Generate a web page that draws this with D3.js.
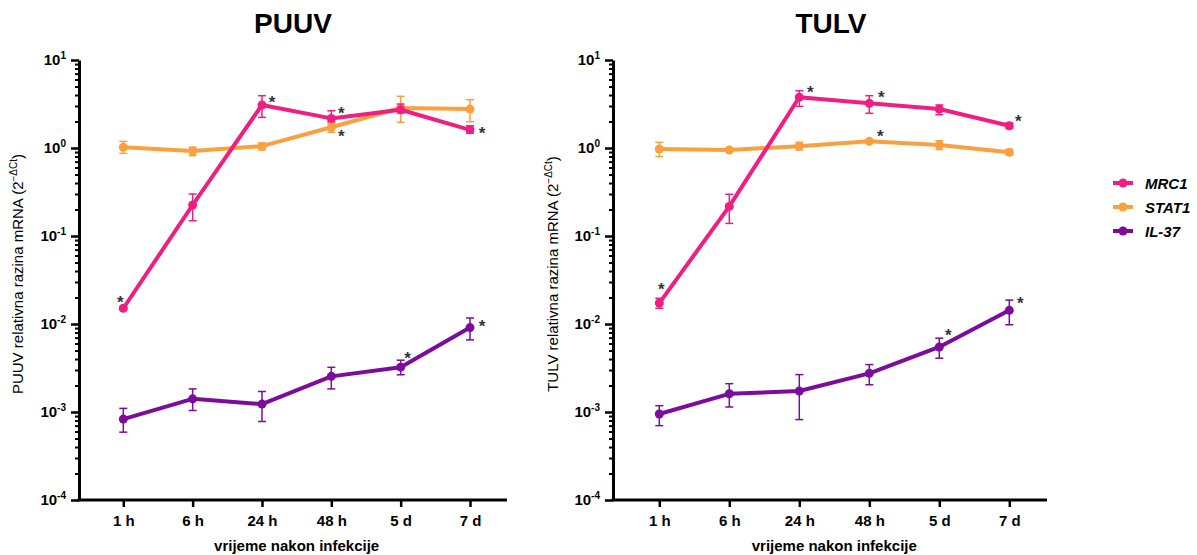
<!DOCTYPE html>
<html><head><meta charset="utf-8">
<script src="https://cdn.jsdelivr.net/npm/d3@7"></script>
<style>
body{margin:0;background:#fff;}
svg{display:block;font-family:"Liberation Sans",Arial,sans-serif;}
</style></head>
<body><svg id="c" width="1197" height="555"></svg>
<script>
// ---------- data ----------
const categories = ["1 h","6 h","24 h","48 h","5 d","7 d"];
const seriesNames = ["MRC1","STAT1","IL-37"];
const yTickExponents = [1,0,-1,-2,-3,-4];

// PUUV
const puuvMRC1 = [0.0151,0.225,3.08,2.17,2.72,1.61];
const puuvMRC1Lo = [0.0145,0.149,2.23,1.99,2.50,1.47];
const puuvMRC1Hi = [0.0157,0.300,3.93,2.65,3.16,1.79];
const puuvSTAT1 = [1.02,0.924,1.05,1.72,2.85,2.77];
const puuvSTAT1Lo = [0.87,0.82,0.95,1.51,1.96,1.99];
const puuvSTAT1Hi = [1.19,1.02,1.14,1.92,3.87,3.54];
const puuvIL37 = [0.00083,0.00141,0.00123,0.00254,0.00323,0.0091];
const puuvIL37Lo = [0.00059,0.00104,0.00078,0.00183,0.00265,0.0066];
const puuvIL37Hi = [0.00110,0.00183,0.00171,0.00322,0.00388,0.0117];

// TULV
const tulvMRC1 = [0.0173,0.217,3.77,3.22,2.77,1.79];
const tulvMRC1Lo = [0.0151,0.139,2.97,2.48,2.39,1.67];
const tulvMRC1Hi = [0.0196,0.298,4.48,3.93,3.08,1.92];
const tulvSTAT1 = [0.974,0.949,1.05,1.19,1.08,0.894];
const tulvSTAT1Lo = [0.80,0.91,0.95,1.14,0.96,0.83];
const tulvSTAT1Hi = [1.16,0.99,1.16,1.24,1.21,0.96];
const tulvIL37 = [0.00095,0.00161,0.00173,0.00275,0.00548,0.0143];
const tulvIL37Lo = [0.00070,0.00114,0.00082,0.00204,0.00409,0.0098];
const tulvIL37Hi = [0.00118,0.00210,0.00266,0.00346,0.00690,0.0187];

// significance markers: [seriesIndex, categoryIndex]
const puuvSig = [[0,0],[0,2],[0,3],[0,5],[1,3],[2,4],[2,5]];
const tulvSig = [[0,0],[0,2],[0,3],[0,5],[1,3],[2,4],[2,5]];

// ---------- styles / layout ----------
const colors = ["#ef1f82","#f9a03f","#7b0c9c"];
const font = '"Liberation Sans",Arial,sans-serif';
// star offsets (px) per panel, same order as sig arrays
const puuvStarOff = [[-3,-9],[10,-6],[10,-8],[12,0],[10,6],[7,-12],[12,-5]];
const tulvStarOff = [[2,-17],[11,-8],[12,-9],[9,-8],[11,-8],[9,-15],[11,-10]];

const panels = [
  {title:"PUUV", yTitle:"PUUV", axisX:79, x0:123.3, x1:470, xEnd:507, titleX:293, yTitleX:23,
   vals:[puuvMRC1,puuvSTAT1,puuvIL37], lo:[puuvMRC1Lo,puuvSTAT1Lo,puuvIL37Lo], hi:[puuvMRC1Hi,puuvSTAT1Hi,puuvIL37Hi],
   sig:puuvSig, off:puuvStarOff},
  {title:"TULV", yTitle:"TULV", axisX:613, x0:659.3, x1:1009.3, xEnd:1047, titleX:831, yTitleX:558,
   vals:[tulvMRC1,tulvSTAT1,tulvIL37], lo:[tulvMRC1Lo,tulvSTAT1Lo,tulvIL37Lo], hi:[tulvMRC1Hi,tulvSTAT1Hi,tulvIL37Hi],
   sig:tulvSig, off:tulvStarOff}
];

const svg = d3.select("#c");
const yTop = 60, yBot = 500;
const y = d3.scaleLog().domain([1e-4,10]).range([yBot,yTop]);

const minor = [];
for (let e=-4;e<1;e++) for (let m=2;m<=9;m++) minor.push(m*Math.pow(10,e));
const major = yTickExponents.map(e=>Math.pow(10,e));

panels.forEach(p=>{
  const g = svg.append("g");
  const x = d3.scalePoint().domain(categories).range([p.x0,p.x1]);

  // title
  g.append("text").attr("x",p.titleX).attr("y",33).attr("text-anchor","middle")
    .attr("font-size",28).attr("font-weight","bold").attr("fill","#000").text(p.title);

  // y axis minor ticks
  const ga1 = g.append("g").attr("transform",`translate(${p.axisX},0)`)
    .call(d3.axisLeft(y).tickValues(minor).tickSize(4).tickFormat(""));
  ga1.select(".domain").remove();
  ga1.selectAll("line").attr("stroke","#000").attr("stroke-width",2);
  // y axis major ticks
  const ga2 = g.append("g").attr("transform",`translate(${p.axisX},0)`)
    .call(d3.axisLeft(y).tickValues(major).tickSize(8).tickSizeOuter(0).tickPadding(5));
  ga2.select(".domain").attr("stroke","#000").attr("stroke-width",3);
  ga2.selectAll(".tick line").attr("stroke","#000").attr("stroke-width",2.5);
  ga2.selectAll(".tick text").each(function(d){
    const t = d3.select(this);
    const e = Math.round(Math.log10(d));
    t.text(null).attr("font-family",font).attr("font-size",15).attr("font-weight","bold").attr("fill","#000");
    t.append("tspan").text("10");
    t.append("tspan").attr("font-size",10).attr("dy",-6).text(e<0 ? "-"+Math.abs(e) : String(e));
  });

  // x axis
  const gx = g.append("g").attr("transform",`translate(0,${yBot})`)
    .call(d3.axisBottom(x).tickSize(7).tickSizeOuter(0).tickPadding(8));
  gx.select(".domain").remove();
  gx.selectAll(".tick line").attr("stroke","#000").attr("stroke-width",2.5);
  gx.selectAll(".tick text").attr("font-family",font).attr("font-size",15).attr("font-weight","bold").attr("fill","#000");
  g.append("line").attr("x1",p.axisX-1.5).attr("x2",p.xEnd).attr("y1",yBot).attr("y2",yBot)
    .attr("stroke","#000").attr("stroke-width",3);

  // x title
  g.append("text").attr("x",(p.x0+p.x1)/2).attr("y",551).attr("text-anchor","middle")
    .attr("font-size",15).attr("font-weight","bold").attr("fill","#000").text("vrijeme nakon infekcije");

  // y title
  const yt = g.append("text").attr("transform",`translate(${p.yTitleX},${(yTop+yBot)/2-6}) rotate(-90)`)
    .attr("text-anchor","middle").attr("font-size",15).attr("fill","#000");
  yt.append("tspan").text(p.yTitle+" relativna razina mRNA (2");
  yt.append("tspan").attr("font-size",10).attr("dy",-6).text("\u2212\u0394Ct");
  yt.append("tspan").attr("dy",6).text(")");

  // series: draw orange first, then purple, then pink on top
  [1,2,0].forEach(si=>{
    const vals = p.vals[si], lo = p.lo[si], hi = p.hi[si];
    const col = colors[si];
    const sg = g.append("g");
    // error bars
    categories.forEach((c,i)=>{
      const cx = x(c);
      sg.append("line").attr("x1",cx).attr("x2",cx).attr("y1",y(lo[i])).attr("y2",y(hi[i]))
        .attr("stroke",col).attr("stroke-width",1.5);
      [lo[i],hi[i]].forEach(v=>{
        sg.append("line").attr("x1",cx-4).attr("x2",cx+4).attr("y1",y(v)).attr("y2",y(v))
          .attr("stroke",col).attr("stroke-width",1.5);
      });
    });
    const line = d3.line().x((d,i)=>x(categories[i])).y(d=>y(d));
    sg.append("path").datum(vals).attr("d",line).attr("fill","none")
      .attr("stroke",col).attr("stroke-width",4).attr("stroke-linejoin","round");
    sg.selectAll("circle").data(vals).join("circle")
      .attr("cx",(d,i)=>x(categories[i])).attr("cy",d=>y(d)).attr("r",4.5).attr("fill",col);
  });

  // significance stars
  p.sig.forEach(([si,ci],k)=>{
    const [dx,dy] = p.off[k];
    g.append("text").attr("x",x(categories[ci])+dx).attr("y",y(p.vals[si][ci])+dy+9)
      .attr("text-anchor","middle").attr("font-size",17).attr("font-weight","bold")
      .attr("fill","#333340").text("*");
  });
});

// legend
const lg = svg.append("g");
seriesNames.forEach((n,i)=>{
  const ly = 183 + i*24;
  lg.append("line").attr("x1",1113).attr("x2",1133).attr("y1",ly).attr("y2",ly)
    .attr("stroke",colors[i]).attr("stroke-width",4);
  lg.append("circle").attr("cx",1123).attr("cy",ly).attr("r",4.5).attr("fill",colors[i]);
  lg.append("text").attr("x",1145).attr("y",ly+5.5).attr("font-size",15).attr("font-weight","bold")
    .attr("font-style","italic").attr("fill","#000").text(n);
});
</script></body></html>
